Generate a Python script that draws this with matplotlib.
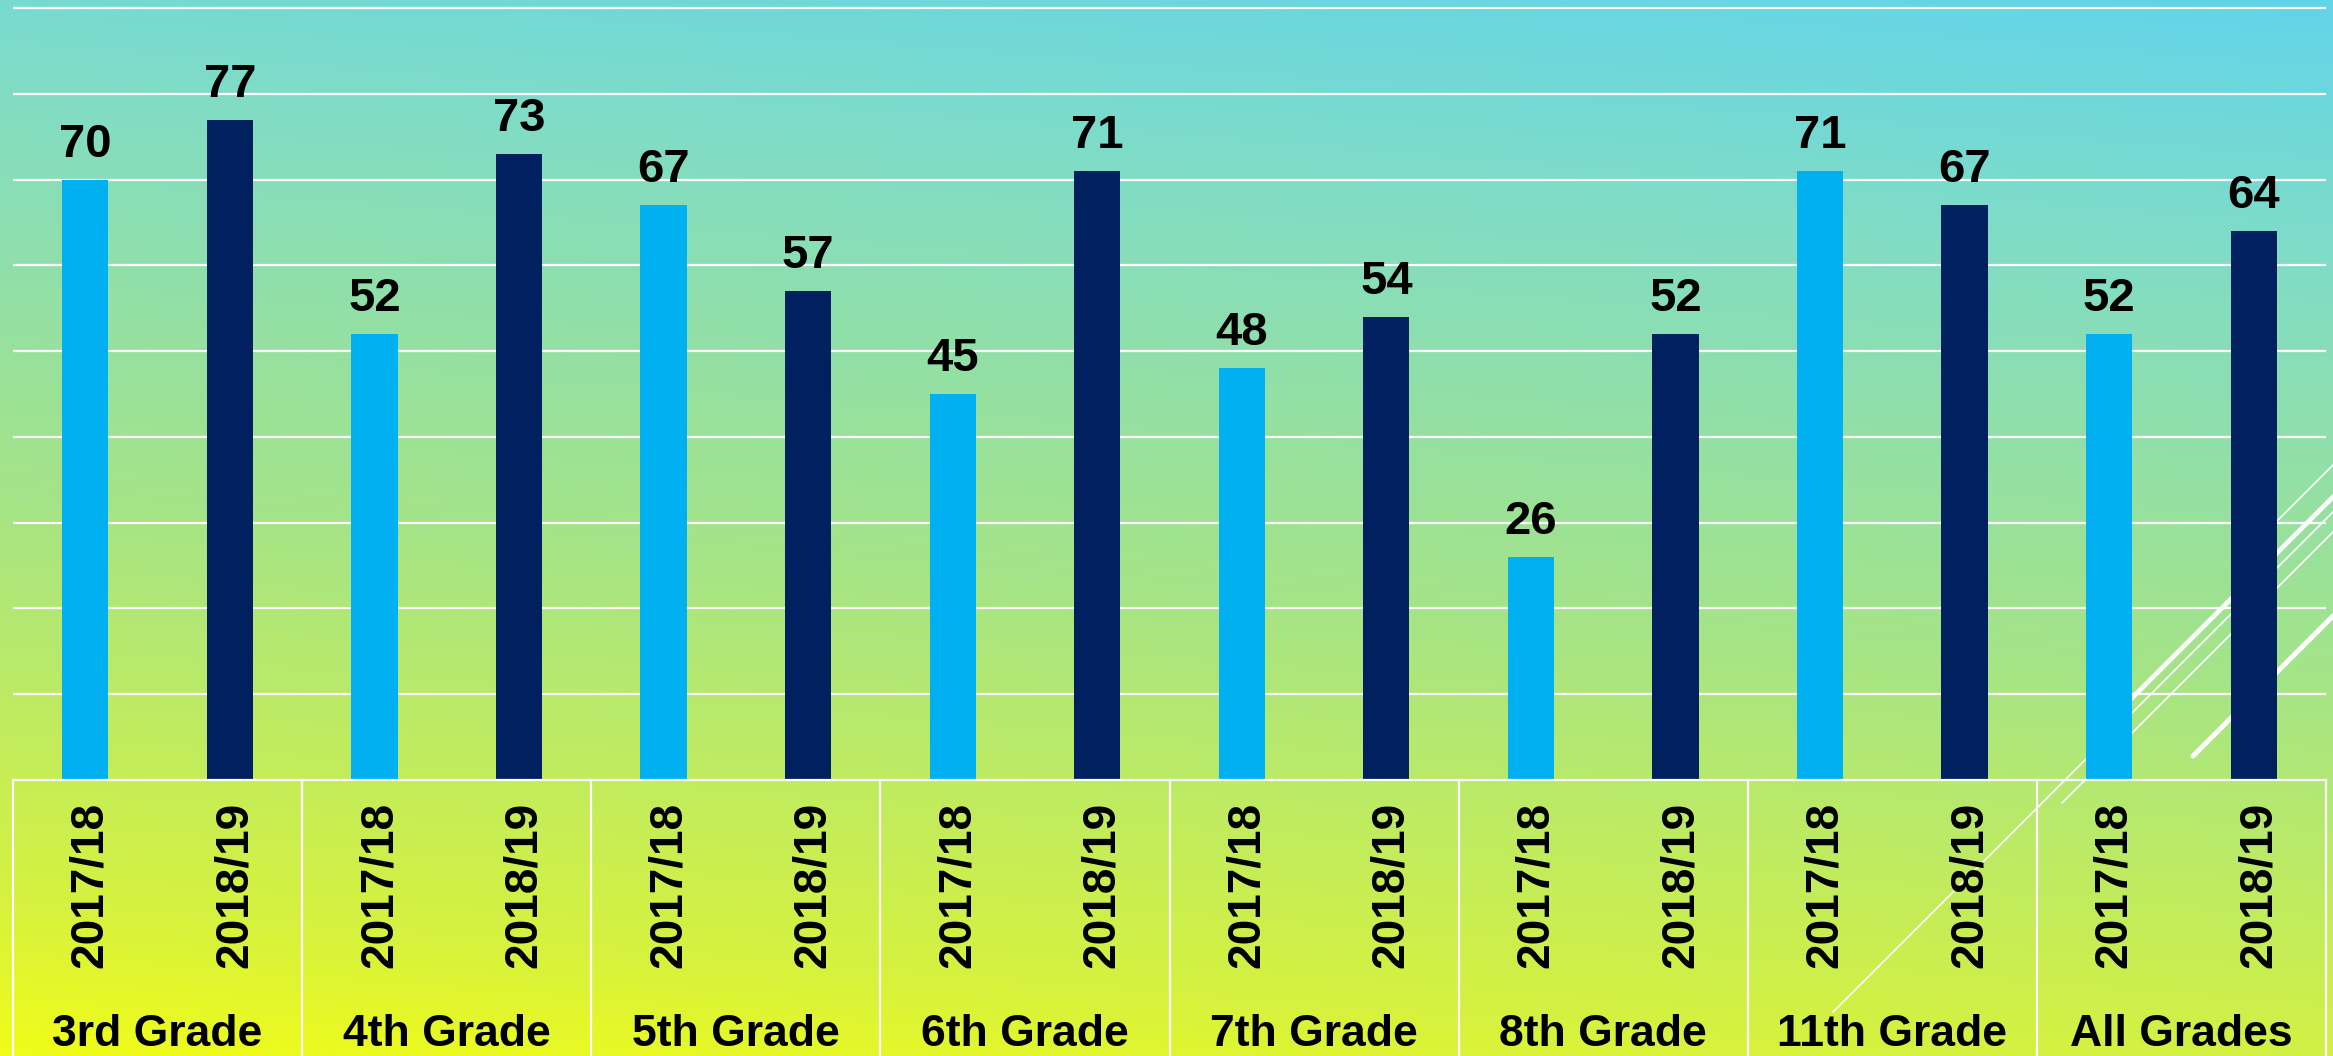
import numpy as np
import matplotlib
matplotlib.use("Agg")
import matplotlib.pyplot as plt
from matplotlib.lines import Line2D

plt.rcParams['font.family'] = ['Liberation Sans', 'DejaVu Sans']

# dados
grades = ['3rd Grade', '4th Grade', '5th Grade', '6th Grade',
          '7th Grade', '8th Grade', '11th Grade', 'All Grades']
years = ['2017/18', '2018/19']
vals_1718 = [70, 52, 67, 45, 48, 26, 71, 52]
vals_1819 = [77, 73, 57, 71, 54, 52, 67, 64]

cor_1718 = '#00B0F0'
cor_1819 = '#002060'

W, H = 2333, 1056
fig = plt.figure(figsize=(W / 100, H / 100), dpi=100)

# fundo em degradê (amarelo embaixo à esquerda -> ciano em cima à direita)
bg = fig.add_axes([0, 0, 1, 1], zorder=-5)
bg.axis('off')
xx, yy = np.meshgrid(np.linspace(0, 1, 400), np.linspace(1, 0, 200))
t = np.clip(0.15 * xx + 0.85 * yy, 0, 1)
stops = [0.0, 0.12, 0.45, 0.8, 1.0]
rs = [240, 215, 165, 127, 98]
gs = [252, 242, 228, 220, 212]
bs = [24, 62, 135, 200, 234]
img = np.dstack([np.interp(t, stops, c) for c in (rs, gs, bs)]) / 255.0
bg.imshow(img, aspect='auto', extent=[0, 1, 0, 1], interpolation='bilinear')
bg.set_xlim(0, 1)
bg.set_ylim(0, 1)

# linhas decorativas do tema (coordenadas em pixels da figura)
def deco(x0, y0, x1, lw):
    y1 = y0 - (x1 - x0)
    fig.add_artist(Line2D([x0 / W, x1 / W], [1 - y0 / H, 1 - y1 / H],
                          transform=fig.transFigure, color='white', lw=lw,
                          solid_capstyle='round', zorder=-1))

deco(1833, 1012, 2400, 1.2)
deco(2062, 803, 2400, 1.2)
deco(2125, 705, 2400, 3.4)
deco(2193, 756, 2400, 3.6)
deco(2250, 548, 2400, 1.2)

# eixo principal
left, right = 13 / W, 2326 / W
bottom = 1 - 780 / H
ax = fig.add_axes([left, bottom, right - left, 1 - bottom])
ax.patch.set_visible(False)

x = np.arange(len(grades) * 2)
x1 = x[0::2]
x2 = x[1::2]
larg = 0.32
b1 = ax.bar(x1, vals_1718, width=larg, color=cor_1718, zorder=3)
b2 = ax.bar(x2, vals_1819, width=larg, color=cor_1819, zorder=3)

ymax = 780 / (772 / 90)
ax.set_xlim(-0.5, len(x) - 0.5)
ax.set_ylim(0, ymax)
ax.set_yticks(range(10, 100, 10))
ax.grid(axis='y', color='white', lw=1.6, zorder=1)
ax.set_axisbelow(True)
ax.tick_params(left=False, bottom=False, labelleft=False, labelbottom=False)
for s in ax.spines.values():
    s.set_visible(False)

# rótulos de valor
for barras, vals in ((b1, vals_1718), (b2, vals_1819)):
    for r, v in zip(barras, vals):
        ax.annotate(str(v), (r.get_x() + r.get_width() / 2, v),
                    xytext=(0, 16.5), textcoords='offset points',
                    ha='center', va='baseline', fontsize=34,
                    fontweight='bold', color='black')

# tabela de categorias abaixo do eixo
trans = ax.get_xaxis_transform()
ybot = -(H - 780) / 772 - 0.01
ax.plot([-0.5, len(x) - 0.5], [0, 0], transform=trans, color='white',
        lw=1.6, clip_on=False, zorder=4)
for xv in np.arange(-0.5, len(x), 2):
    ax.plot([xv, xv], [0, ybot], transform=trans, color='white', lw=1.6,
            clip_on=False, zorder=4)

y_ano = -(884 - 780) / 772
y_grp = -(1027 - 780) / 772
for i, xv in enumerate(x):
    ax.text(xv, y_ano, years[i % 2], transform=trans, rotation=90,
            rotation_mode='anchor', ha='center', va='center_baseline',
            fontsize=33, fontweight='bold', color='black')
for g, xv in zip(grades, x1):
    ax.text(xv + 0.5, y_grp, g, transform=trans, ha='center',
            va='center_baseline', fontsize=32, fontweight='bold',
            color='black')

fig.savefig('out.png', dpi=100)
